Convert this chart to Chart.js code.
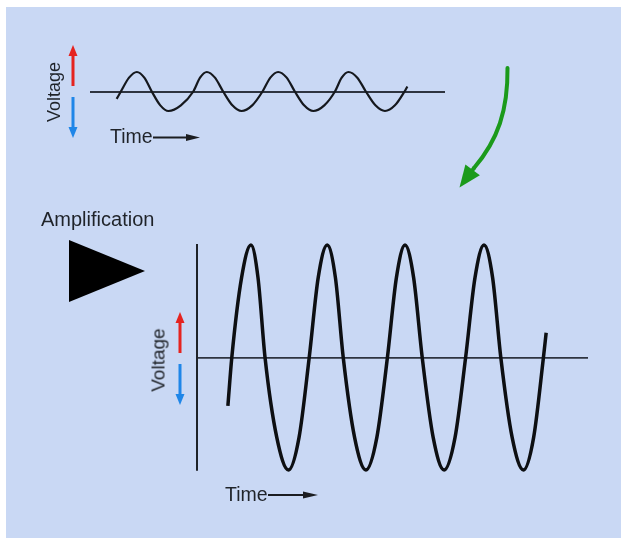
<!DOCTYPE html>
<html>
<head>
<meta charset="utf-8">
<script src="https://cdn.jsdelivr.net/npm/chart.js@4"></script>
<style>
  html, body { margin: 0; padding: 0; background: #fff; }
  #page { position: relative; width: 621px; height: 538px; overflow: hidden; }
  #panel { position: absolute; left: 6px; top: 7px; right: 0; bottom: 0; background: rgb(201, 216, 244); }
  canvas { position: absolute; left: 0; top: 0; }
  .lbl { position: absolute; font-family: 'Liberation Sans', Arial, sans-serif; font-size: 18px; line-height: 1; color: #1f2329; white-space: nowrap; }
  .mid { transform: translateY(-50%); }
  .rot { transform: translate(-50%, -50%) rotate(-90deg); }
</style>
</head>
<body>
<div id="page">
  <div id="panel"></div>
  <canvas id="topChart" width="621" height="538"></canvas>
  <canvas id="bottomChart" width="621" height="538"></canvas>
  <div class="lbl rot" style="left:54px; top:92px;">Voltage</div>
  <div class="lbl mid" style="left:110px; top:137px; font-size:19.5px;">Time</div>
  <div class="lbl mid" style="left:41px; top:219px; font-size:20px;">Amplification</div>
  <div class="lbl rot" style="left:158px; top:360px; font-size:19px;">Voltage</div>
  <div class="lbl mid" style="left:225px; top:495px; font-size:19.5px;">Time</div>
</div>
<script>
// --- DATA (time in arbitrary units 0..10, voltage normalised -1..1) ---
const timeRange = [0, 10];
const voltRange = [-1, 1];

// small input signal (crossings, half-heights, peaks, troughs)
const topTime  = [0.75, 0.87, 1.10, 1.32, 1.53, 1.74, 1.98, 2.21, 2.56, 2.91, 3.10, 3.29, 3.52, 3.75, 4.01, 4.27,
                  4.57, 4.86, 5.08, 5.30, 5.54, 5.77, 6.03, 6.29, 6.60, 6.90, 7.09, 7.28, 7.53, 7.77, 8.04, 8.31, 8.59, 8.86, 8.94];
const topVolts = [-0.38, 0, 0.71, 1, 0.71, 0, -0.71, -1, -0.71, 0, 0.71, 1, 0.71, 0, -0.71, -1,
                  -0.71, 0, 0.71, 1, 0.71, 0, -0.71, -1, -0.71, 0, 0.71, 1, 0.71, 0, -0.71, -1, -0.71, 0, 0.26];

// amplified output signal
const bottomTime  = [0.79, 0.89, 1.14, 1.38, 1.56, 1.74, 2.04, 2.34, 2.61, 2.87, 3.10, 3.33, 3.54, 3.74, 4.03, 4.32,
                     4.60, 4.87, 5.10, 5.32, 5.54, 5.76, 6.04, 6.32, 6.60, 6.87, 7.11, 7.34, 7.56, 7.77, 8.06, 8.35, 8.61, 8.86, 8.93];
const bottomVolts = [-0.43, 0, 0.71, 1, 0.71, 0, -0.71, -1, -0.71, 0, 0.71, 1, 0.71, 0, -0.71, -1,
                     -0.71, 0, 0.71, 1, 0.71, 0, -0.71, -1, -0.71, 0, 0.71, 1, 0.71, 0, -0.71, -1, -0.71, 0, 0.22];

const toPoints = (xs, ys) => xs.map((x, i) => ({ x: x, y: ys[i] }));

// --- DECORATION HELPERS ---
const drawArrow = (ctx, x1, y1, x2, y2, color, shaft, headLen, headHalf) => {
    const ang = Math.atan2(y2 - y1, x2 - x1);
    const bx = x2 - Math.cos(ang) * headLen;
    const by = y2 - Math.sin(ang) * headLen;
    ctx.strokeStyle = color;
    ctx.fillStyle = color;
    ctx.lineWidth = shaft;
    ctx.beginPath();
    ctx.moveTo(x1, y1);
    ctx.lineTo(bx, by);
    ctx.stroke();
    ctx.beginPath();
    ctx.moveTo(x2, y2);
    ctx.lineTo(bx + Math.sin(ang) * headHalf, by - Math.cos(ang) * headHalf);
    ctx.lineTo(bx - Math.sin(ang) * headHalf, by + Math.cos(ang) * headHalf);
    ctx.closePath();
    ctx.fill();
};

const decorations = {
    id: 'decorations',
    afterDraw(chart) {
        const ctx = chart.ctx;
        ctx.save();
        // voltage direction arrows
        drawArrow(ctx, 73, 86, 73, 45, '#e5231f', 3, 11, 4.5);
        drawArrow(ctx, 73, 97, 73, 138, '#1f86e8', 3, 11, 4.5);
        drawArrow(ctx, 180, 353, 180, 312, '#e5231f', 3, 11, 4.5);
        drawArrow(ctx, 180, 364, 180, 405, '#1f86e8', 3, 11, 4.5);
        // time arrows
        drawArrow(ctx, 153, 137.5, 200, 137.5, '#1b1d21', 2, 14, 3.5);
        drawArrow(ctx, 268, 495, 318, 495, '#1b1d21', 2, 15, 3.5);
        // amplifier triangle
        ctx.fillStyle = '#000';
        ctx.beginPath();
        ctx.moveTo(69, 240);
        ctx.lineTo(145, 271);
        ctx.lineTo(69, 302);
        ctx.closePath();
        ctx.fill();
        // curved green arrow
        ctx.strokeStyle = '#1b9a1b';
        ctx.lineWidth = 4;
        ctx.lineCap = 'round';
        ctx.beginPath();
        ctx.moveTo(507.5, 68);
        ctx.bezierCurveTo(508, 110, 498, 140, 474, 168);
        ctx.stroke();
        drawArrow(ctx, 474, 168, 459.5, 187.5, '#1b9a1b', 4, 22, 9);
        ctx.restore();
    }
};

const makeOptions = (padding, showBorder, gridWidth) => ({
    responsive: false,
    animation: false,
    layout: { padding: padding },
    plugins: { legend: { display: false }, tooltip: { enabled: false } },
    scales: {
        x: { type: 'linear', min: timeRange[0], max: timeRange[1], display: false },
        y: {
            min: voltRange[0], max: voltRange[1],
            ticks: { display: false, stepSize: 1 },
            grid: {
                drawTicks: false,
                lineWidth: gridWidth,
                color: (c) => (c.tick && c.tick.value === 0 ? '#2e3440' : 'rgba(0,0,0,0)')
            },
            border: { display: showBorder, color: '#1e2228', width: 2 }
        }
    }
});

new Chart(document.getElementById('topChart'), {
    type: 'line',
    data: {
        datasets: [{
            data: toPoints(topTime, topVolts),
            borderColor: '#15181d',
            borderWidth: 2.2,
            pointRadius: 0,
            fill: false,
            clip: false,
            cubicInterpolationMode: 'monotone'
        }]
    },
    options: makeOptions({ left: 90, right: 176, top: 72, bottom: 427 }, false, 2)
});

new Chart(document.getElementById('bottomChart'), {
    type: 'line',
    data: {
        datasets: [{
            data: toPoints(bottomTime, bottomVolts),
            borderColor: '#0d0f12',
            borderWidth: 3.5,
            pointRadius: 0,
            fill: false,
            clip: false,
            cubicInterpolationMode: 'monotone'
        }]
    },
    options: makeOptions({ left: 197, right: 33, top: 245, bottom: 68 }, true, 1.8),
    plugins: [decorations]
});
</script>
</body>
</html>
